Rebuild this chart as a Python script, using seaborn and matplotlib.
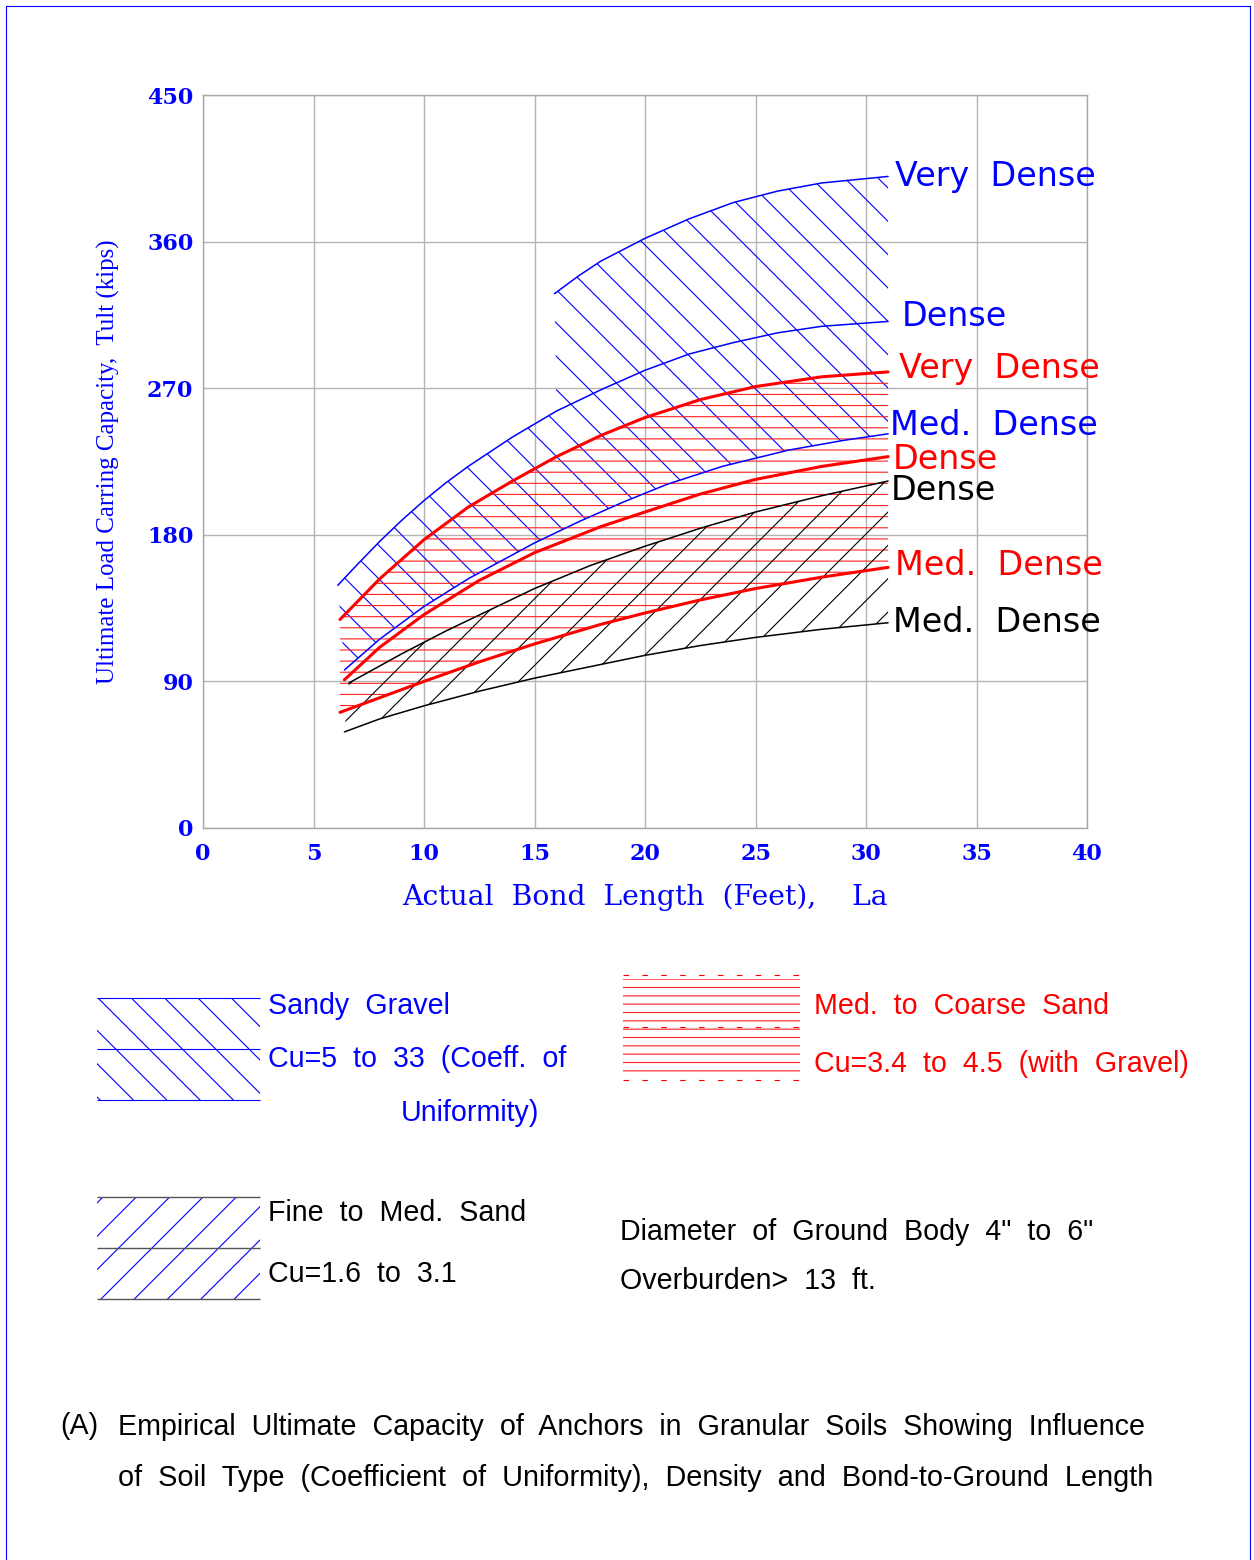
import numpy as np
import pandas as pd
import seaborn as sns
import matplotlib.pyplot as plt

# readings: bond length (ft) vs Tult (kips)
# Sandy Gravel (blue)
sg_vdense_x = [15.9, 17, 18, 20, 22, 24, 26, 28, 31]
sg_vdense_y = [328, 339, 348, 362, 374, 384, 391, 396, 400]
sg_dense_x = [6.1, 7, 8, 9, 10, 11, 12, 14, 16, 18, 20, 22, 24, 26, 28, 31]
sg_dense_y = [149, 162, 176, 189, 201, 212, 222, 240, 256, 269, 281, 291, 298, 304, 308, 311]
sg_med_x = [6.4, 8, 10, 12, 15, 17, 19, 21, 23.5, 26.5, 29, 31]
sg_med_y = [97, 116, 136, 153, 175, 188, 200, 211, 222, 232, 238, 242]

# Med. to Coarse Sand (red)
cs_vdense_x = [6.2, 8, 10, 12, 14, 16, 18, 20, 22.5, 25, 28, 31]
cs_vdense_y = [128, 153, 177, 197, 213, 228, 241, 252, 263, 271, 277, 280]
cs_dense_x = [6.4, 8, 10, 12.5, 15, 18, 20, 22.5, 25, 28, 31]
cs_dense_y = [91, 111, 131, 152, 169, 185, 194, 205, 214, 222, 228]
cs_med_x = [6.2, 8, 10, 12.5, 15, 18, 20, 22.5, 25, 28, 31]
cs_med_y = [71, 80, 90, 102, 113, 125, 132, 140, 147, 154, 160]

# Fine to Med. Sand (black)
fs_dense_x = [6.6, 9, 11, 13, 15, 17.5, 20, 22.5, 25, 28, 31]
fs_dense_y = [89, 107, 121, 134, 147, 161, 173, 184, 194, 204, 213]
fs_med_x = [6.4, 8, 10, 12.5, 15, 17.5, 20, 22.5, 25, 28, 31]
fs_med_y = [59, 67, 75, 84, 92, 99, 106, 112, 117, 122, 126]

x_ticks = [0, 5, 10, 15, 20, 25, 30, 35, 40]
y_ticks = [0, 90, 180, 270, 360, 450]

curve_labels = ["Very  Dense", "Dense", "Very  Dense", "Med.  Dense",
                "Dense", "Dense", "Med.  Dense", "Med.  Dense"]
curve_label_colors = ["blue", "blue", "red", "blue", "red", "black", "red", "black"]
curve_label_y = [400, 314, 282, 247, 226, 207, 161, 126]
curve_label_x = [31.3, 31.6, 31.5, 31.1, 31.2, 31.1, 31.3, 31.2]

sns.set_style("white")
plt.rcParams["hatch.linewidth"] = 0.4

fig = plt.figure(figsize=(6.27, 7.8), dpi=200)
W, H = 1254, 1560
ax = fig.add_axes([203 / W, 1 - 828 / H, 884 / W, 733 / H])

# hatched zones
ax.fill(sg_dense_x + sg_med_x[::-1], sg_dense_y + sg_med_y[::-1],
        facecolor="none", edgecolor="blue", lw=0, hatch="\\\\")
top_x = [x for x in sg_dense_x if x >= 16]
top_y = [y for x, y in zip(sg_dense_x, sg_dense_y) if x >= 16]
ax.fill(sg_vdense_x + top_x[::-1], sg_vdense_y + top_y[::-1],
        facecolor="none", edgecolor="blue", lw=0, hatch="\\\\")
ax.fill(cs_vdense_x + cs_med_x[::-1], cs_vdense_y + cs_med_y[::-1],
        facecolor="none", edgecolor="#ff2020", lw=0, hatch="---")
ax.fill(fs_dense_x + fs_med_x[::-1], fs_dense_y + fs_med_y[::-1],
        facecolor="none", edgecolor="black", lw=0, hatch="//")

# boundary curves
for xs, ys, c, w in [(sg_vdense_x, sg_vdense_y, "blue", 0.55),
                     (sg_dense_x, sg_dense_y, "blue", 0.55),
                     (sg_med_x, sg_med_y, "blue", 0.55),
                     (fs_dense_x, fs_dense_y, "black", 0.55),
                     (fs_med_x, fs_med_y, "black", 0.55),
                     (cs_vdense_x, cs_vdense_y, "red", 1.1),
                     (cs_dense_x, cs_dense_y, "red", 1.1),
                     (cs_med_x, cs_med_y, "red", 1.1)]:
    sns.lineplot(x=xs, y=ys, color=c, lw=w, ax=ax, sort=False)

for txt, c, xv, yv in zip(curve_labels, curve_label_colors, curve_label_x, curve_label_y):
    ax.text(xv, yv, txt, color=c, fontsize=12, va="center", ha="left",
            family="DejaVu Sans")

ax.set_xlim(0, 40)
ax.set_ylim(0, 450)
ax.set_xticks(x_ticks)
ax.set_yticks(y_ticks)
ax.grid(True, color="#b4b4b4", lw=0.5)
for s in ax.spines.values():
    s.set_color("#a8a8a8")
    s.set_linewidth(0.5)
ax.tick_params(length=0, colors="blue", labelsize=8)
ax.tick_params(axis="x", pad=5.5)
ax.tick_params(axis="y", pad=3.5)
for lab in ax.get_xticklabels() + ax.get_yticklabels():
    lab.set_family("DejaVu Serif")
    lab.set_fontweight("bold")
ax.set_xlabel("Actual  Bond  Length  (Feet),    La", color="blue", fontsize=10.2,
              family="DejaVu Serif")
ax.xaxis.set_label_coords(0.5, -0.076)
ax.set_ylabel("Ultimate Load Carring Capacity,  Tult (kips)", color="blue",
              fontsize=9, family="Liberation Serif")
ax.yaxis.set_label_coords(-0.094, 0.5)

# legend / notes drawn on an overlay in pixel units
ov = fig.add_axes([0, 0, 1, 1])
ov.set_xlim(0, W)
ov.set_ylim(H, 0)
ov.axis("off")

ov.fill_between([97, 260], 998, 1100, facecolor="none", edgecolor="blue", lw=0, hatch="\\\\")
ov.hlines([998, 1049, 1100], 97, 260, color="blue", lw=0.4)
ov.fill_between([623, 800], 979, 1077, facecolor="none", edgecolor="#ff2020", lw=0, hatch="----")
ov.hlines([975, 1027, 1080], 623, 800, color="red", lw=0.4, linestyles=(0, (5, 12)))
ov.fill_between([97, 260], 1197, 1299, facecolor="none", edgecolor="blue", lw=0, hatch="//")
ov.hlines([1197, 1248, 1299], 97, 260, color="#555555", lw=0.5)

fs = 10.3
sans = "Liberation Sans"
ov.text(268, 1006, "Sandy  Gravel", color="blue", fontsize=fs, va="center", family=sans)
ov.text(268, 1059, "Cu=5  to  33  (Coeff.  of", color="blue", fontsize=fs, va="center", family=sans)
ov.text(401, 1113, "Uniformity)", color="blue", fontsize=fs, va="center", family=sans)
ov.text(814, 1006, "Med.  to  Coarse  Sand", color="red", fontsize=fs, va="center", family=sans)
ov.text(814, 1064, "Cu=3.4  to  4.5  (with  Gravel)", color="red", fontsize=fs, va="center", family=sans)
ov.text(268, 1213, "Fine  to  Med.  Sand", color="black", fontsize=fs, va="center", family=sans)
ov.text(268, 1274, "Cu=1.6  to  3.1", color="black", fontsize=fs, va="center", family=sans)
ov.text(620, 1232, "Diameter  of  Ground  Body  4\"  to  6\"", color="black", fontsize=fs,
        va="center", family=sans)
ov.text(620, 1281, "Overburden>  13  ft.", color="black", fontsize=fs, va="center", family=sans)

ov.text(60, 1426, "(A)", color="black", fontsize=10.3, va="center", family=sans)
ov.text(118, 1427, "Empirical  Ultimate  Capacity  of  Anchors  in  Granular  Soils  Showing  Influence",
        color="black", fontsize=10.3, va="center", family=sans)
ov.text(118, 1478, "of  Soil  Type  (Coefficient  of  Uniformity),  Density  and  Bond-to-Ground  Length",
        color="black", fontsize=10.4, va="center", family=sans)

# outer frame
ov.plot([6, 6, 1250, 1250], [H + 10, 6, 6, H + 10], color="blue", lw=0.4)

fig.savefig("out.png", dpi=200)
